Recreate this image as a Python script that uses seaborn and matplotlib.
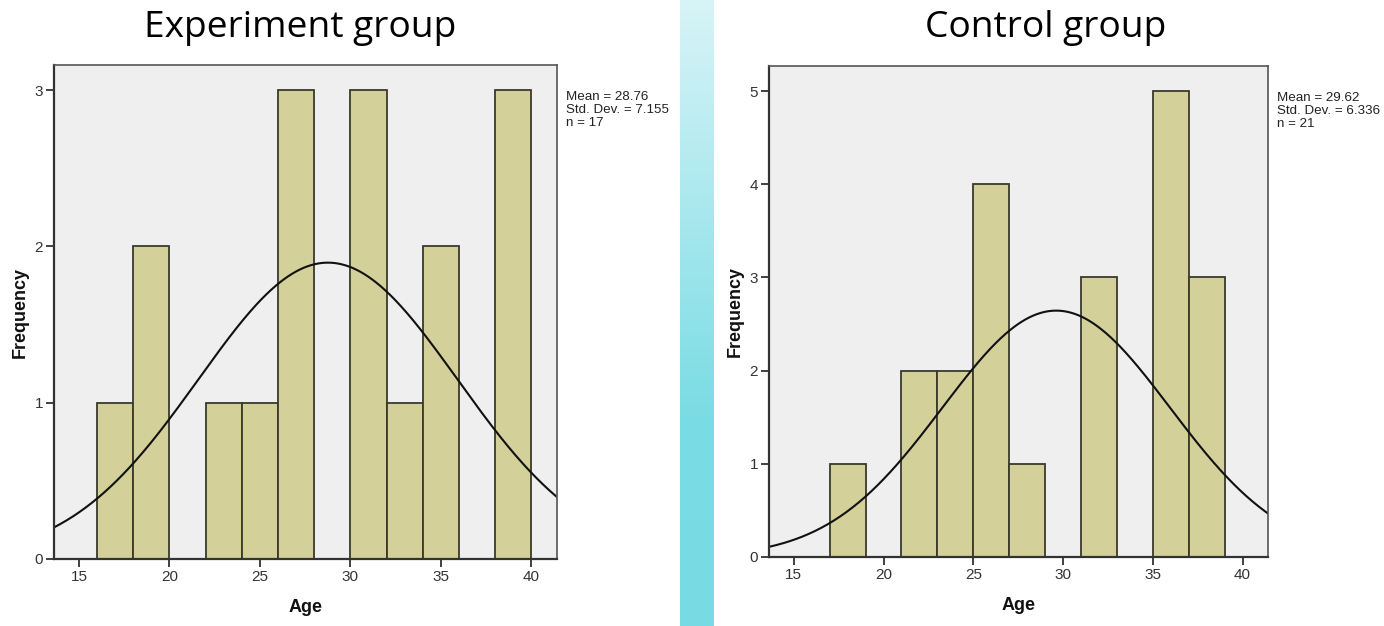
import numpy as np
import pandas as pd
import matplotlib
matplotlib.use("Agg")
import matplotlib.pyplot as plt
import seaborn as sns
from matplotlib.colors import LinearSegmentedColormap

# ---- data ----
exp_bin_left = [16, 18, 22, 24, 26, 30, 32, 34, 38]
exp_counts = [1, 2, 1, 1, 3, 3, 1, 2, 3]
exp_mean, exp_sd, exp_n = 28.76, 7.155, 17

ctl_bin_left = [17, 21, 23, 25, 27, 31, 35, 37]
ctl_counts = [1, 2, 2, 4, 1, 3, 5, 3]
ctl_mean, ctl_sd, ctl_n = 29.62, 6.336, 21

bin_width = 2
x_ticks = [15, 20, 25, 30, 35, 40]
exp_yticks = [0, 1, 2, 3]
ctl_yticks = [0, 1, 2, 3, 4, 5]

titles = ["Experiment group", "Control group"]

sns.set_theme(style="white")
plt.rcParams['font.family'] = ['Liberation Sans', 'DejaVu Sans']

W, H = 1384, 626
fig = plt.figure(figsize=(W / 100, H / 100), dpi=100)

def px_axes(x0, y0, x1, y1):
    return fig.add_axes([x0 / W, 1 - y1 / H, (x1 - x0) / W, (y1 - y0) / H])

BAR = "#d3d09a"
EDGE = "#3a3a2a"
BG = "#efefef"

def panel(ax, bin_left, counts, mean, sd, n, yticks, ylim_top):
    lo = min(bin_left)
    hi = max(bin_left) + bin_width
    all_edges = [float(e) for e in range(lo, hi + 1, bin_width)]
    df = pd.DataFrame({"age": [b + bin_width / 2 for b in bin_left],
                       "w": [float(c) for c in counts]})
    ax.set_facecolor(BG)
    sns.histplot(data=df, x="age", weights="w", bins=all_edges, ax=ax,
                 color=BAR, edgecolor=EDGE, linewidth=1.3, alpha=1)
    xs = np.linspace(13.6, 41.45, 400)
    ys = n * bin_width / (sd * np.sqrt(2 * np.pi)) * np.exp(-0.5 * ((xs - mean) / sd) ** 2)
    sns.lineplot(x=xs, y=ys, ax=ax, color="#111111", linewidth=1.5)
    ax.set_xlim(13.62, 41.42)
    ax.set_ylim(0, ylim_top)
    ax.set_xticks(x_ticks)
    ax.set_xticklabels([str(t) for t in x_ticks], fontsize=11, color="#333333")
    ax.set_yticks(yticks)
    ax.set_yticklabels([str(t) for t in yticks], fontsize=11, color="#333333")
    ax.tick_params(axis="both", which="both", length=6, width=1.3, color="#333333",
                   direction="out", bottom=True, left=True, pad=2)
    for s in ax.spines.values():
        s.set_visible(True)
        s.set_color("#555555")
        s.set_linewidth(1.2)
    ax.spines["left"].set_color("#333333")
    ax.spines["bottom"].set_color("#333333")
    ax.spines["left"].set_linewidth(1.6)
    ax.spines["bottom"].set_linewidth(1.6)
    ax.set_xlabel("Age", fontsize=13, fontweight="bold", color="#111111", labelpad=11)
    ax.set_ylabel("Frequency", fontsize=13, fontweight="bold", color="#111111", labelpad=4)
    ax.text(1.018, 0.948, f"Mean = {mean}\nStd. Dev. = {sd}\nn = {n}",
            transform=ax.transAxes, fontsize=9.6, va="top", ha="left",
            color="#222222", linespacing=1.13)

ax1 = px_axes(54, 65, 557, 559)
panel(ax1, exp_bin_left, exp_counts, exp_mean, exp_sd, exp_n, exp_yticks, 3.16)
ax2 = px_axes(769, 66, 1268, 557)
panel(ax2, ctl_bin_left, ctl_counts, ctl_mean, ctl_sd, ctl_n, ctl_yticks, 5.27)

# titles
fig.text(300 / W, 1 - 28 / H, titles[0], fontsize=26.7, ha="center", va="center",
         family=["Open Sans", "DejaVu Sans"], color="#000000")
fig.text(1046 / W, 1 - 28 / H, titles[1], fontsize=26.7, ha="center", va="center",
         family=["Open Sans", "DejaVu Sans"], color="#000000")

# gradient divider
gax = px_axes(680, 0, 714, 626)
cmap = LinearSegmentedColormap.from_list("g", ["#d8f4f7", "#a9e8ee", "#7adce4", "#78dbe3"])
grad = np.linspace(0, 1, 256).reshape(-1, 1)
gax.imshow(grad, aspect="auto", cmap=cmap, extent=[0, 1, 1, 0])
gax.set_axis_off()

fig.savefig("out.png", dpi=100, facecolor="white")
